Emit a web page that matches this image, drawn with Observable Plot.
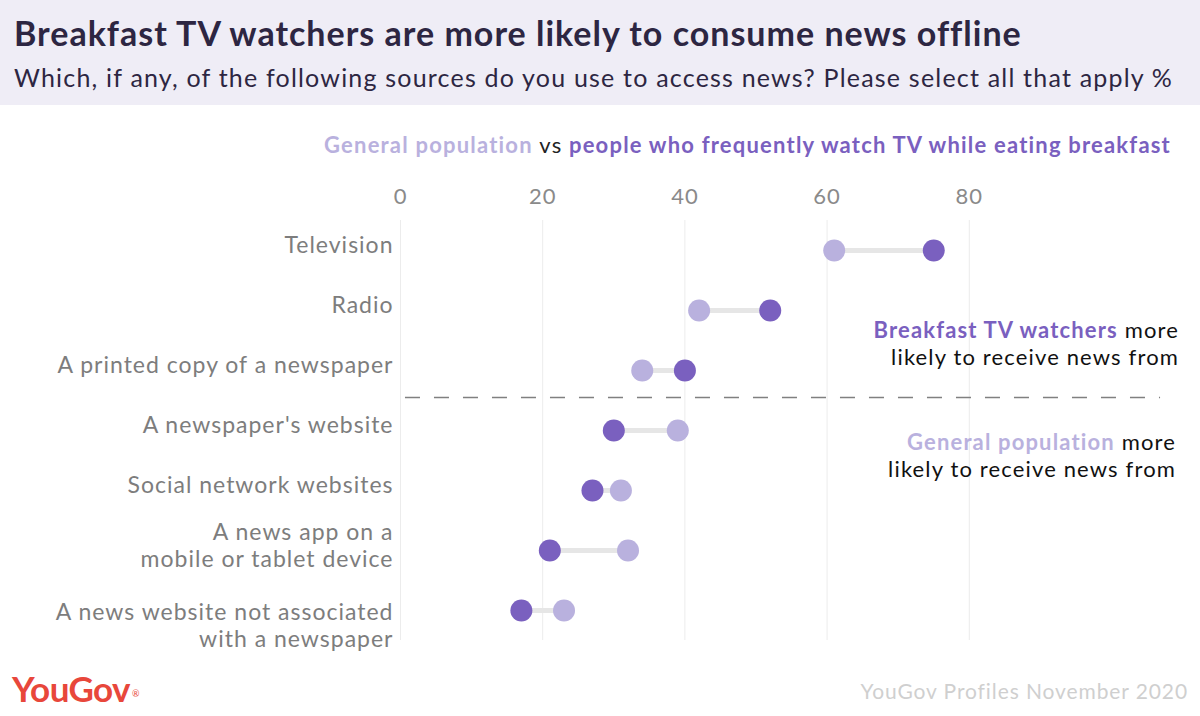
<!DOCTYPE html>
<html>
<head>
<meta charset="utf-8">
<script src="https://cdn.jsdelivr.net/npm/d3@7"></script>
<script src="https://cdn.jsdelivr.net/npm/@observablehq/plot@0.6"></script>
<style>
  html, body { margin: 0; padding: 0; }
  body { width: 1200px; height: 716px; position: relative; overflow: hidden; background: #fff; font-family: Lato, "Open Sans", sans-serif; }
  .abs { position: absolute; white-space: nowrap; }
  #header { position: absolute; left: 0; top: 0; width: 1200px; height: 105px; background: #efedf6; }
  #title { left: 14px; top: 13px; font-size: 34px; font-weight: 700; color: #2d2642; line-height: 40px; letter-spacing: 1px; }
  #subtitle { left: 14px; top: 60px; font-size: 25px; font-weight: 400; color: #2d2642; line-height: 34px; letter-spacing: 1.2px; }
  #legend { right: 29px; top: 130px; font-size: 22px; font-weight: 700; line-height: 30px; color: #222; letter-spacing: 1.2px; }
  .gen { color: #b9b1de; font-weight: 700; }
  .bk { color: #7a60bf; font-weight: 700; }
  .note { right: 21px; text-align: right; font-size: 22px; line-height: 27px; color: #111; letter-spacing: 1.15px; }
  #chart { position: absolute; left: 0; top: 105px; }
  #chart svg text { letter-spacing: 1px; }
  #logo { left: 12px; top: 666px; font-size: 35px; font-weight: 700; color: #e8473b; letter-spacing: -0.6px; line-height: 44px; }
  #logo sup { font-size: 9px; font-weight: 400; vertical-align: top; position: relative; top: 6px; left: 2px; }
  #caption { right: 12px; top: 676px; font-size: 21px; color: #cfcfcf; line-height: 30px; letter-spacing: 0.9px; }
</style>
</head>
<body>
<div id="header"></div>
<div id="title" class="abs">Breakfast TV watchers are more likely to consume news offline</div>
<div id="subtitle" class="abs">Which, if any, of the following sources do you use to access news? Please select all that apply %</div>
<div id="chart"></div>
<div id="legend" class="abs"><span class="gen">General population</span> <span style="font-weight:400">vs</span> <span class="bk">people who frequently watch TV while eating breakfast</span></div>
<div class="abs note" style="top:316px"><span class="bk">Breakfast TV watchers</span> more<br>likely to receive news from</div>
<div class="abs note" style="top:428px; right:24px"><span class="gen">General population</span> more<br>likely to receive news from</div>
<div id="logo" class="abs">YouGov<sup>®</sup></div>
<div id="caption" class="abs">YouGov Profiles November 2020</div>
<script>
const categories = [
  "Television",
  "Radio",
  "A printed copy of a newspaper",
  "A newspaper's website",
  "Social network websites",
  "A news app on a\nmobile or tablet device",
  "A news website not associated\nwith a newspaper"
];
const generalPopulation = [61, 42, 34, 39, 31, 32, 23];
const breakfastTV = [75, 52, 40, 30, 27, 21, 17];
const xTicks = [0, 20, 40, 60, 80];
const dividerAfter = 2.5;

const rows = categories.map((c, i) => ({i, label: c, general: generalPopulation[i], breakfast: breakfastTV[i]}));
const lastIndex = categories.length - 1;

const yLabelStyle = {anchor: "left", tickSize: 0, tickPadding: 7, tickFormat: i => categories[i], fill: "#7d7d7d", fontSize: 23, lineHeight: 1.2, label: null};

const chart = Plot.plot({
  width: 1200,
  height: 611,
  marginLeft: 400,
  marginRight: 89,
  marginTop: 115,
  marginBottom: 76,
  style: {fontFamily: "Lato, 'Open Sans', sans-serif", fontSize: "22px", background: "transparent"},
  x: {domain: [0, 100], axis: null},
  y: {domain: [-0.5, 6.5], reverse: true, axis: null},
  marks: [
    Plot.gridX(xTicks, {stroke: "#ececec", strokeOpacity: 1, strokeWidth: 1}),
    Plot.axisX(xTicks, {anchor: "top", tickSize: 0, tickPadding: 17, fill: "#8a8a8a", fontSize: 22, label: null}),
    Plot.axisY(d3.range(lastIndex), {...yLabelStyle, dy: -6}),
    Plot.axisY([lastIndex], {...yLabelStyle, dy: 14}),
    Plot.ruleY([dividerAfter], {x1: 0.7, x2: 106.9, dy: -3, stroke: "#808080", strokeWidth: 1.5, strokeDasharray: "15,14"}),
    Plot.link(rows, {x1: "general", x2: "breakfast", y1: "i", y2: "i", stroke: "#e6e6e6", strokeWidth: 5}),
    Plot.dot(rows, {x: "general", y: "i", r: 11, fill: "#b9b1de"}),
    Plot.dot(rows, {x: "breakfast", y: "i", r: 11, fill: "#7a60bf"})
  ]
});
document.getElementById("chart").appendChild(chart);
</script>
</body>
</html>
